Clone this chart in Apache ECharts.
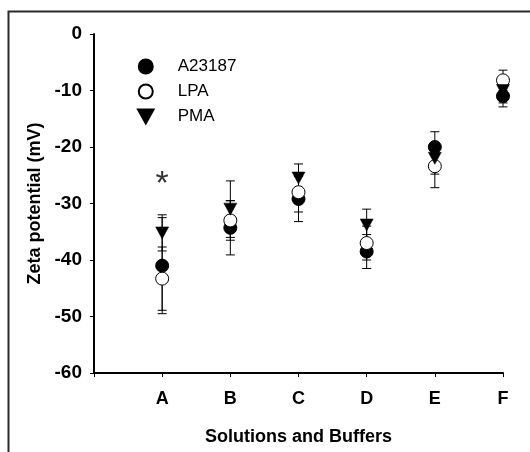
<!DOCTYPE html>
<html>
<head>
<meta charset="utf-8">
<script src="https://cdn.jsdelivr.net/npm/echarts@6/dist/echarts.min.js"></script>
<style>
html,body{margin:0;padding:0;background:#fff;}
#chart{width:530px;height:452px;}
</style>
</head>
<body>
<div id="chart"></div>
<script>
var categories = ['A', 'B', 'C', 'D', 'E', 'F'];
var yTicks = [0, -10, -20, -30, -40, -50, -60];
var seriesNames = ['A23187', 'LPA', 'PMA'];
var a23187Mean = [-41, -34.3, -29.2, -38.5, -20, -11];
var a23187Err  = [8.5, 4.8, 4, 3, 2.7, 1.9];
var lpaMean = [-43.3, -33, -28, -37, -23.4, -8.2];
var lpaErr  = [5.6, 3.5, 3.5, 3, 3.8, 1.8];
var pmaMean = [-35.2, -31, -25.5, -33.8, -22, -10];
var pmaErr  = [3.2, 5, 2.5, 2.8, 2.8, 2.2];
var significance = [{ category: 'A', value: -25.5, text: '*' }];

var FONT = '"Liberation Sans", Arial, sans-serif';
var triDown = 'path://M0,0 L10,0 L5,9 Z';

function pts(mean) {
  return mean.map(function (v, i) { return [i + 1, v]; });
}
function errData(mean, err) {
  return mean.map(function (v, i) { return [i + 1, v - err[i], v + err[i]]; });
}
function errSeries(mean, err) {
  return {
    type: 'custom',
    data: errData(mean, err),
    z: 1,
    silent: true,
    renderItem: function (params, api) {
      var x = api.value(0);
      var lo = api.coord([x, api.value(1)]);
      var hi = api.coord([x, api.value(2)]);
      var hw = 4.5;
      var st = { stroke: '#000', lineWidth: 1 };
      return {
        type: 'group',
        children: [
          { type: 'line', shape: { x1: lo[0], y1: lo[1], x2: hi[0], y2: hi[1] }, style: st },
          { type: 'line', shape: { x1: lo[0] - hw, y1: lo[1], x2: lo[0] + hw, y2: lo[1] }, style: st },
          { type: 'line', shape: { x1: hi[0] - hw, y1: hi[1], x2: hi[0] + hw, y2: hi[1] }, style: st }
        ]
      };
    }
  };
}

var chart = echarts.init(document.getElementById('chart'));
chart.setOption({
  animation: false,
  backgroundColor: '#fff',
  grid: { left: 94, right: 27, top: 34, bottom: 79, containLabel: false },
  legend: {
    left: 132, top: 53, orient: 'vertical',
    itemWidth: 54, itemHeight: 14, itemGap: 8,
    data: seriesNames,
    textStyle: { fontFamily: FONT, fontSize: 17, color: '#000' }
  },
  xAxis: {
    type: 'value', min: 0, max: 6, interval: 1,
    name: 'Solutions and Buffers', nameLocation: 'middle', nameGap: 55,
    nameTextStyle: { fontFamily: FONT, fontSize: 18, fontWeight: 'bold', color: '#000' },
    axisLine: { onZero: false, lineStyle: { color: '#000', width: 2 } },
    axisTick: { show: true, length: 4, lineStyle: { color: '#000', width: 1 } },
    axisLabel: {
      margin: 17, fontFamily: FONT, fontSize: 18, fontWeight: 'bold', color: '#000',
      formatter: function (v) { return v >= 1 ? categories[v - 1] : ''; }
    },
    splitLine: { show: false }
  },
  yAxis: {
    type: 'value', min: -60, max: 0, interval: 10,
    name: 'Zeta potential (mV)', nameLocation: 'middle', nameGap: 50,
    nameTextStyle: { fontFamily: FONT, fontSize: 18, fontWeight: 'bold', color: '#000' },
    axisLine: { show: true, onZero: false, lineStyle: { color: '#000', width: 2 } },
    axisTick: { show: true, length: 4, lineStyle: { color: '#000', width: 1 } },
    axisLabel: {
      margin: 12, fontFamily: FONT, fontSize: 19, fontWeight: 'bold', color: '#000',
      formatter: function (v) { return yTicks.indexOf(v) >= 0 ? String(v) : ''; }
    },
    splitLine: { show: false }
  },
  graphic: [{
    type: 'polyline',
    shape: { points: [[8.5, 452], [8.5, 11.5], [530, 11.5]] },
    style: { stroke: '#2a2a2a', lineWidth: 2, fill: null },
    z: 10
  }],
  series: [
    errSeries(a23187Mean, a23187Err),
    errSeries(lpaMean, lpaErr),
    errSeries(pmaMean, pmaErr),
    {
      name: 'A23187', type: 'scatter', data: pts(a23187Mean), z: 3,
      symbol: 'circle', symbolSize: 13,
      itemStyle: { color: '#000', borderColor: '#000', borderWidth: 1, opacity: 1 }
    },
    {
      name: 'LPA', type: 'scatter', data: pts(lpaMean), z: 4,
      symbol: 'circle', symbolSize: 13,
      itemStyle: { color: '#fff', borderColor: '#000', borderWidth: 1, opacity: 1 }
    },
    {
      name: 'PMA', type: 'scatter', data: pts(pmaMean), z: 5,
      symbol: triDown, symbolSize: [13, 12],
      itemStyle: { color: '#000', borderColor: '#000', borderWidth: 0.5, opacity: 1 }
    },
    {
      type: 'scatter', silent: true, z: 6,
      data: significance.map(function (s) { return [categories.indexOf(s.category) + 1, s.value]; }),
      symbolSize: 0,
      label: {
        show: true, position: 'inside',
        formatter: function (p) { return significance[p.dataIndex].text; },
        fontFamily: FONT, fontSize: 34, color: '#000', offset: [0, 7]
      }
    }
  ]
});
</script>
</body>
</html>
